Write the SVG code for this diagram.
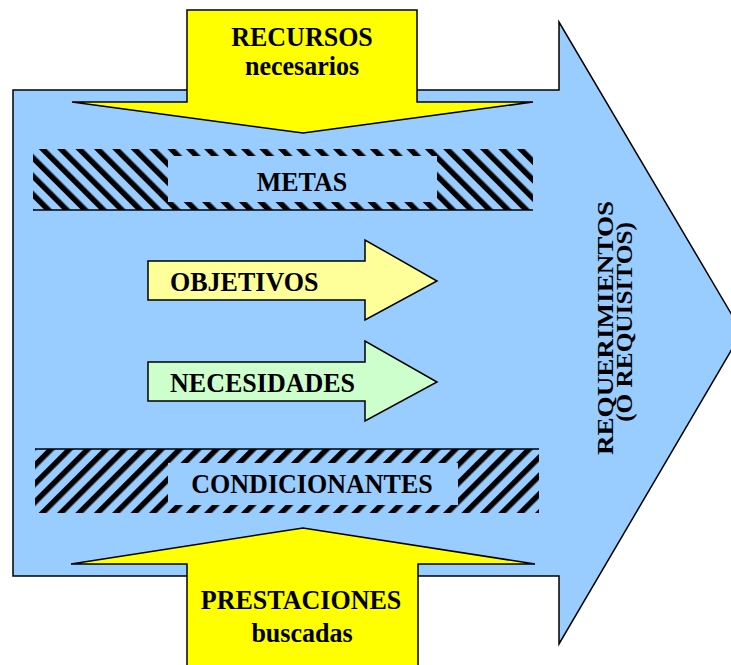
<svg xmlns="http://www.w3.org/2000/svg" width="731" height="665" viewBox="0 0 731 665">
<defs>
<style>
.lbl{font-family:"Liberation Serif","Times New Roman",serif;font-weight:bold;font-size:28px;fill:#000}
.vl{font-size:23px}
.ol{stroke:#000;stroke-width:1.5;stroke-linejoin:miter}
</style>
<pattern id="hatchB" patternUnits="userSpaceOnUse" width="13" height="20" patternTransform="rotate(-45)">
<rect x="0" y="0" width="5.5" height="20" fill="#000"/>
</pattern>
<pattern id="hatchF" patternUnits="userSpaceOnUse" width="13" height="20" patternTransform="rotate(45)">
<rect x="0" y="0" width="5.5" height="20" fill="#000"/>
</pattern>
</defs>
<rect width="731" height="665" fill="#fff"/>
<g id="big-arrow">
<path class="ol" d="M13,90 H559 V22 L742,332 L559,644 V576 H13 Z" fill="#99CCFF"/>
<text class="lbl vl" transform="translate(613,328) rotate(-90) scale(1.18,1)" text-anchor="middle">REQUERIMIENTOS</text>
<text class="lbl vl" transform="translate(632,322) rotate(-90) scale(1.1,1)" text-anchor="middle">(O REQUISITOS)</text>
</g>
<g id="recursos">
<path class="ol" d="M187,10 H417 V102 H533 L303,133 L72,102 H187 Z" fill="#FFFF00"/>
<text class="lbl" transform="translate(302,46) scale(0.93,1)" text-anchor="middle">RECURSOS</text>
<text class="lbl" transform="translate(302,75) scale(0.93,1)" text-anchor="middle">necesarios</text>
</g>
<g id="metas">
<rect x="33" y="149" width="500" height="61" fill="url(#hatchB)"/>
<rect x="168" y="156" width="269" height="46" fill="#99CCFF"/>
<line x1="33" y1="210" x2="533" y2="210" stroke="#000" stroke-width="1.5"/>
<text class="lbl" transform="translate(302,191) scale(0.93,1)" text-anchor="middle">METAS</text>
</g>
<g id="objetivos">
<path class="ol" d="M148,261 H365 V240 L437,281 L365,320 V300 H148 Z" fill="#FFFF99"/>
<text class="lbl" transform="translate(170,291) scale(0.93,1)">OBJETIVOS</text>
</g>
<g id="necesidades">
<path class="ol" d="M148,362 H365 V341 L437,382 L365,421 V401 H148 Z" fill="#CCFFCC"/>
<text class="lbl" transform="translate(170,392) scale(0.93,1)">NECESIDADES</text>
</g>
<g id="condicionantes">
<rect x="35" y="449" width="504" height="64" fill="url(#hatchF)"/>
<rect x="168" y="463" width="290" height="42" fill="#99CCFF"/>
<line x1="35" y1="449" x2="539" y2="449" stroke="#000" stroke-width="1.5"/>
<text class="lbl" transform="translate(312,493) scale(0.93,1)" text-anchor="middle">CONDICIONANTES</text>
</g>
<g id="prestaciones">
<path class="ol" d="M187,670 V564 H71 L303,528 L535,564 H418 V670 Z" fill="#FFFF00"/>
<text class="lbl" transform="translate(301,609) scale(0.93,1)" text-anchor="middle">PRESTACIONES</text>
<text class="lbl" transform="translate(302,642) scale(0.93,1)" text-anchor="middle">buscadas</text>
</g>
<g id="connectors"></g>
</svg>
